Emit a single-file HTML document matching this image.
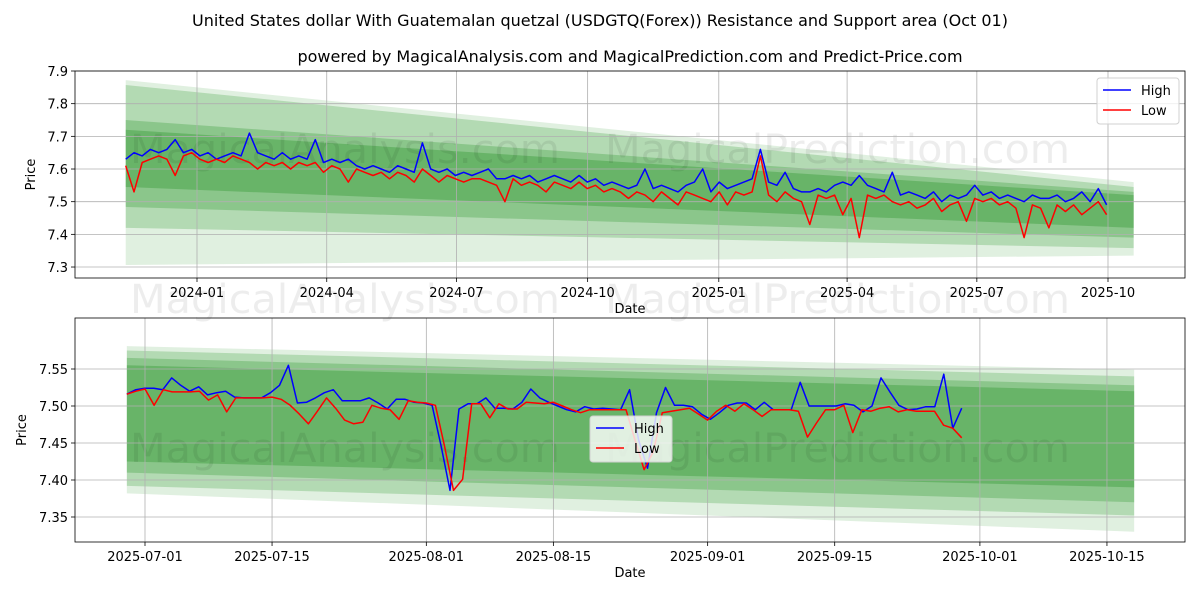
<!DOCTYPE html>
<html><head><meta charset="utf-8"><style>
body{margin:0;background:#fff;}
svg{display:block;font-family:"DejaVu Sans","Liberation Sans",sans-serif;}
</style></head><body>
<svg id="chart" width="1200" height="600" viewBox="0 0 1200 600" xmlns="http://www.w3.org/2000/svg">
<rect width="1200" height="600" fill="#fff"/>
<text x="600" y="26" text-anchor="middle" font-size="16">United States dollar With Guatemalan quetzal (USDGTQ(Forex)) Resistance and Support area (Oct 01)</text>
<text x="630" y="62" text-anchor="middle" font-size="16">powered by MagicalAnalysis.com and MagicalPrediction.com and Predict-Price.com</text>
<g id="top"></g>
<g id="bot"></g>
</svg>
<script>
// ---- top chart data ----
const topHigh=[7.63,7.65,7.64,7.66,7.65,7.66,7.69,7.65,7.66,7.64,
7.65,7.63,7.64,7.65,7.64,7.71,7.65,7.64,7.63,7.65,
7.63,7.64,7.63,7.69,7.62,7.63,7.62,7.63,7.61,7.60,
7.61,7.60,7.59,7.61,7.60,7.59,7.68,7.60,7.59,7.60,
7.58,7.59,7.58,7.59,7.60,7.57,7.57,7.58,7.57,7.58,
7.56,7.57,7.58,7.57,7.56,7.58,7.56,7.57,7.55,7.56,
7.55,7.54,7.55,7.60,7.54,7.55,7.54,7.53,7.55,7.56,
7.60,7.53,7.56,7.54,7.55,7.56,7.57,7.66,7.56,7.55,
7.59,7.54,7.53,7.53,7.54,7.53,7.55,7.56,7.55,7.58,
7.55,7.54,7.53,7.59,7.52,7.53,7.52,7.51,7.53,7.50,
7.52,7.51,7.52,7.55,7.52,7.53,7.51,7.52,7.51,7.50,
7.52,7.51,7.51,7.52,7.50,7.51,7.53,7.50,7.54,7.49];
const topLow=[7.61,7.53,7.62,7.63,7.64,7.63,7.58,7.64,7.65,7.63,
7.62,7.63,7.62,7.64,7.63,7.62,7.60,7.62,7.61,7.62,
7.60,7.62,7.61,7.62,7.59,7.61,7.60,7.56,7.60,7.59,
7.58,7.59,7.57,7.59,7.58,7.56,7.60,7.58,7.56,7.58,
7.57,7.56,7.57,7.57,7.56,7.55,7.50,7.57,7.55,7.56,
7.55,7.53,7.56,7.55,7.54,7.56,7.54,7.55,7.53,7.54,
7.53,7.51,7.53,7.52,7.50,7.53,7.51,7.49,7.53,7.52,
7.51,7.50,7.53,7.49,7.53,7.52,7.53,7.64,7.52,7.50,
7.53,7.51,7.50,7.43,7.52,7.51,7.52,7.46,7.51,7.39,
7.52,7.51,7.52,7.50,7.49,7.50,7.48,7.49,7.51,7.47,
7.49,7.50,7.44,7.51,7.50,7.51,7.49,7.50,7.48,7.39,
7.49,7.48,7.42,7.49,7.47,7.49,7.46,7.48,7.50,7.46];
const topStartDay=-50, topEndDay=638, topBandEndDay=657; // days from 2024-01-01
const topBandsL=[[7.872,7.306],[7.857,7.42],[7.75,7.484],[7.72,7.545]];
const topBandsR=[[7.56,7.335],[7.545,7.358],[7.53,7.39],[7.52,7.42]];
const topYTicks=[7.3,7.4,7.5,7.6,7.7,7.8,7.9];
const topXTickLabels=["2024-01","2024-04","2024-07","2024-10","2025-01","2025-04","2025-07","2025-10"];
const topXTickDays=[0,91,182,274,366,456,547,639];
// ---- bottom chart data ----
const botHigh=[7.516,7.522,7.524,7.524,7.522,7.538,7.528,7.520,7.526,7.515,7.518,7.520,7.512,7.511,7.511,7.511,7.518,7.528,7.555,7.504,7.505,7.511,7.518,7.522,7.507,7.507,7.507,7.511,7.504,7.496,7.509,7.509,7.505,7.504,7.501,7.446,7.386,7.496,7.503,7.503,7.511,7.497,7.497,7.496,7.505,7.523,7.511,7.505,7.500,7.495,7.492,7.499,7.496,7.497,7.496,7.495,7.522,7.454,7.416,7.491,7.525,7.501,7.501,7.499,7.489,7.482,7.491,7.501,7.504,7.504,7.495,7.505,7.495,7.495,7.495,7.532,7.500,7.500,7.500,7.500,7.503,7.501,7.492,7.500,7.538,7.519,7.501,7.495,7.496,7.499,7.499,7.543,7.470,7.497];
const botLow=[7.516,7.520,7.523,7.501,7.522,7.519,7.519,7.519,7.520,7.508,7.515,7.492,7.511,7.511,7.511,7.511,7.512,7.509,7.501,7.489,7.476,7.493,7.511,7.497,7.481,7.476,7.478,7.501,7.497,7.495,7.482,7.507,7.505,7.504,7.501,7.446,7.386,7.401,7.503,7.503,7.484,7.503,7.496,7.496,7.505,7.504,7.503,7.505,7.500,7.495,7.491,7.495,7.495,7.495,7.495,7.495,7.454,7.414,7.438,7.491,7.493,7.495,7.497,7.489,7.481,7.493,7.501,7.493,7.503,7.495,7.486,7.495,7.495,7.495,7.493,7.458,7.477,7.495,7.495,7.501,7.464,7.495,7.493,7.497,7.499,7.492,7.495,7.493,7.493,7.493,7.474,7.470,7.457];
const botStartDay=-2, botEndDay=90, botBandEndDay=109; // days from 2025-07-01
const botBandsL=[[7.581,7.382],[7.575,7.392],[7.565,7.41],[7.555,7.425]];
const botBandsR=[[7.549,7.330],[7.540,7.352],[7.528,7.37],[7.52,7.39]];
const botYTicks=[7.35,7.40,7.45,7.50,7.55];
const botXTickLabels=["2025-07-01","2025-07-15","2025-08-01","2025-08-15","2025-09-01","2025-09-15","2025-10-01","2025-10-15"];
const botXTickDays=[0,14,31,45,62,76,92,106];

const NS="http://www.w3.org/2000/svg";
function mk(parent,tag,attrs,name){const e=document.createElementNS(NS,tag);for(const k in attrs)e.setAttribute(k,attrs[k]);


parent.appendChild(e);return e;}
const alphas=[0.12,0.2,0.22,0.25];
function panel(g,o){
  const X=d=>o.x0+(d-o.d0)*o.pxd, Y=v=>o.y0+(o.v0-v)*o.pxv;
  o.bL.forEach((b,i)=>{const r=o.bR[i];const a=X(o.start),c=X(o.bandEnd);
    mk(g,'polygon',{points:`${a},${Y(b[0])} ${c},${Y(r[0])} ${c},${Y(r[1])} ${a},${Y(b[1])}`,fill:'green','fill-opacity':alphas[i]},'band-'+i);});
  o.wm.forEach(w=>{const t=mk(g,'text',{x:w[0],y:w[1],'font-size':40,textLength:w[3],lengthAdjust:'spacingAndGlyphs',fill:'#000','fill-opacity':0.07},'watermark');t.textContent=w[2];});
  o.yt.forEach(v=>{mk(g,'line',{x1:o.L,x2:o.R,y1:Y(v),y2:Y(v),stroke:'#b0b0b0','stroke-width':0.8},'y-gridline');
    mk(g,'line',{x1:o.L-4,x2:o.L,y1:Y(v),y2:Y(v),stroke:'#000','stroke-width':0.8},'y-tick');
    const t=mk(g,'text',{x:o.L-7,y:Y(v)+5,'text-anchor':'end','font-size':13},'y-tick-label');t.textContent=o.yfmt(v);});
  o.xd.forEach((d,i)=>{mk(g,'line',{x1:X(d),x2:X(d),y1:o.T,y2:o.B,stroke:'#b0b0b0','stroke-width':0.8},'x-gridline');
    mk(g,'line',{x1:X(d),x2:X(d),y1:o.B,y2:o.B+4,stroke:'#000','stroke-width':0.8},'x-tick');
    const t=mk(g,'text',{x:X(d),y:o.B+19,'text-anchor':'middle','font-size':13},'x-tick-label');t.textContent=o.xl[i];});
  [[o.hi,'#0000ff','high-line'],[o.lo,'#ff0000','low-line']].forEach(s=>{const n=s[0].length;
    const pts=s[0].map((v,i)=>X(o.start+i*(o.end-o.start)/(n-1)).toFixed(1)+','+Y(v).toFixed(1)).join(' ');
    mk(g,'polyline',{points:pts,fill:'none',stroke:s[1],'stroke-width':1.5,'stroke-linejoin':'round'},s[2]);});
  mk(g,'rect',{x:o.L,y:o.T,width:o.R-o.L,height:o.B-o.T,fill:'none',stroke:'#000','stroke-width':0.8},'axes-frame');
  const xl=mk(g,'text',{x:(o.L+o.R)/2,y:o.B+35,'text-anchor':'middle','font-size':13},'x-axis-title');xl.textContent='Date';
  const yl=mk(g,'text',{x:0,y:0,transform:`translate(${o.yLabX},${(o.T+o.B)/2}) rotate(-90)`,'text-anchor':'middle','font-size':13},'y-axis-title');yl.textContent='Price';
  const lg=mk(g,'g',{},'legend');const[lx,ly]=o.leg;
  mk(lg,'rect',{x:lx,y:ly,width:82,height:46,rx:3,fill:'#fff','fill-opacity':0.8,stroke:'#d0d0d0'},'legend-box');
  mk(lg,'line',{x1:lx+6,x2:lx+34,y1:ly+12,y2:ly+12,stroke:'#0000ff','stroke-width':1.5},'legend-high-swatch');
  mk(lg,'line',{x1:lx+6,x2:lx+34,y1:ly+32,y2:ly+32,stroke:'#ff0000','stroke-width':1.5},'legend-low-swatch');
  const t1=mk(lg,'text',{x:lx+44,y:ly+17,'font-size':13},'legend-high-label');t1.textContent='High';
  const t2=mk(lg,'text',{x:lx+44,y:ly+37,'font-size':13},'legend-low-label');t2.textContent='Low';
}
panel(document.getElementById('top'),{x0:197,d0:0,pxd:911/639,y0:71,v0:7.9,pxv:326.7,L:75,R:1185,T:71,B:278,
  start:topStartDay,end:topEndDay,bandEnd:topBandEndDay,bL:topBandsL,bR:topBandsR,hi:topHigh,lo:topLow,
  yt:topYTicks,yfmt:v=>v.toFixed(1),xd:topXTickDays,xl:topXTickLabels,yLabX:35,leg:[1097,78],
  wm:[[130,163,'MagicalAnalysis.com',430],[605,163,'MagicalPrediction.com',465],[130,313,'MagicalAnalysis.com',430],[605,313,'MagicalPrediction.com',465]]});
panel(document.getElementById('bot'),{x0:145,d0:0,pxd:9.075,y0:369,v0:7.55,pxv:740,L:75,R:1185,T:318,B:542,
  start:botStartDay,end:botEndDay,bandEnd:botBandEndDay,bL:botBandsL,bR:botBandsR,hi:botHigh,lo:botLow,
  yt:botYTicks,yfmt:v=>v.toFixed(2),xd:botXTickDays,xl:botXTickLabels,yLabX:26,leg:[590,416],
  wm:[[130,462,'MagicalAnalysis.com',430],[605,462,'MagicalPrediction.com',465]]});
</script>
</body></html>
